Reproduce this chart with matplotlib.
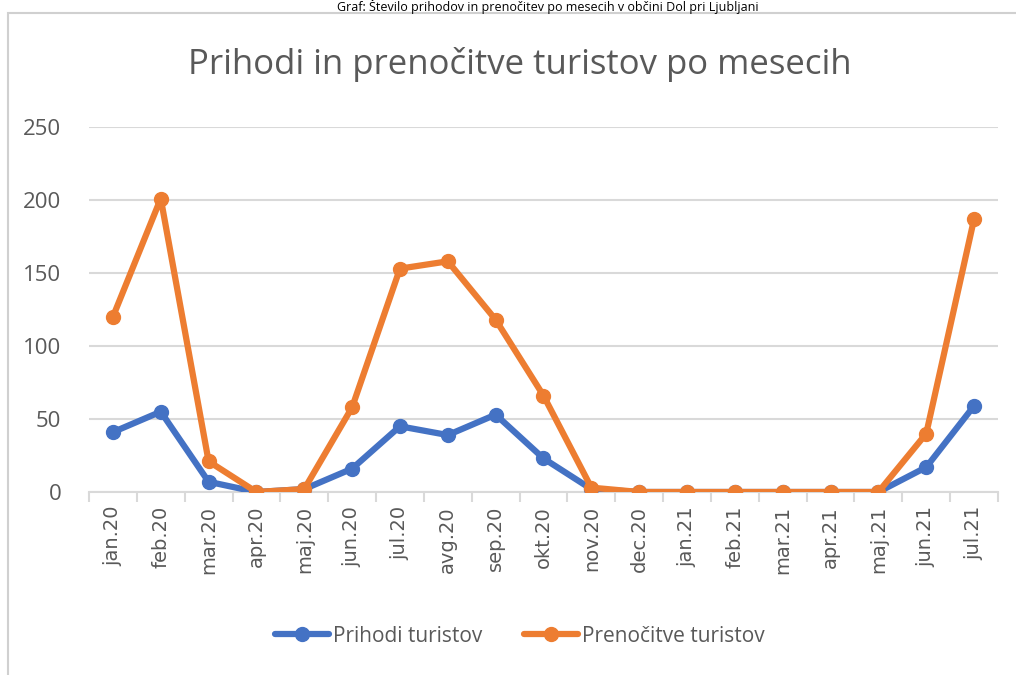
import matplotlib
matplotlib.use("Agg")
import matplotlib.pyplot as plt
from matplotlib.patches import Rectangle

months = ["jan.20", "feb.20", "mar.20", "apr.20", "maj.20", "jun.20", "jul.20",
          "avg.20", "sep.20", "okt.20", "nov.20", "dec.20", "jan.21", "feb.21",
          "mar.21", "apr.21", "maj.21", "jun.21", "jul.21"]
prihodi = [41, 55, 7, 0, 2, 16, 45, 39, 53, 23, 2, 0, 0, 0, 0, 0, 0, 17, 59]
prenocitve = [120, 201, 21, 0, 2, 58, 153, 158, 118, 66, 3, 0, 0, 0, 0, 0, 0, 40, 187]

blue = "#4472C4"
orange = "#ED7D31"
grey = "#595959"

plt.rcParams['font.family'] = ['Open Sans', 'DejaVu Sans']

fig = plt.figure(figsize=(10.16, 6.75), dpi=100)
ax = fig.add_axes([89/1016, 1 - 492/675, 909/1016, 365/675])

# chart frame and the caption above it
fig.patches.append(Rectangle((8/1016, -0.05), 1.2, 1 - 13/675 + 0.05, transform=fig.transFigure,
                             fill=False, edgecolor="#D0D0D0", linewidth=1.5))
fig.text(548/1016, 1 - 6/675, "Graf: Število prihodov in prenočitev po mesecih v občini Dol pri Ljubljani",
         ha="center", va="center", fontsize=9, color="black")

x = list(range(len(months)))
ax.plot(x, prihodi, color=blue, linewidth=4.5, marker="o", markersize=10,
        label="Prihodi turistov", solid_capstyle="round", zorder=3)
ax.plot(x, prenocitve, color=orange, linewidth=4.5, marker="o", markersize=10,
        label="Prenočitve turistov", solid_capstyle="round", zorder=4)

ax.set_xlim(-0.5, len(months) - 0.5)
ax.set_ylim(0, 250)
ax.set_yticks([0, 50, 100, 150, 200, 250])
ax.grid(axis="y", color="#D9D9D9", linewidth=1.5)
ax.set_axisbelow(True)
for s in ["top", "right", "left"]:
    ax.spines[s].set_visible(False)
ax.spines["bottom"].set_color("#D9D9D9")
ax.spines["bottom"].set_linewidth(1.5)
ax.spines["bottom"].set_zorder(1)

ax.set_xticks(x)
ax.set_xticklabels(months, rotation=90, fontsize=14, color=grey, family="DejaVu Sans")
ax.set_xticks([i - 0.5 for i in range(len(months) + 1)], minor=True)
ax.tick_params(axis="x", which="major", length=0, pad=10)
ax.tick_params(axis="x", which="minor", length=7, width=1.5, color="#D9D9D9")
ax.tick_params(axis="y", length=0, labelsize=16, labelcolor=grey, pad=20)

fig.text(520/1016, 1 - 65/675, "Prihodi in prenočitve turistov po mesecih",
         ha="center", va="center", fontsize=25, color=grey)

fig.legend(loc="center", bbox_to_anchor=(520/1016, 1 - 636/675), ncol=2, frameon=False,
           fontsize=15, labelcolor=grey, handlelength=2.6, columnspacing=2.0, handletextpad=0.2)

fig.savefig("out.png", dpi=100)
